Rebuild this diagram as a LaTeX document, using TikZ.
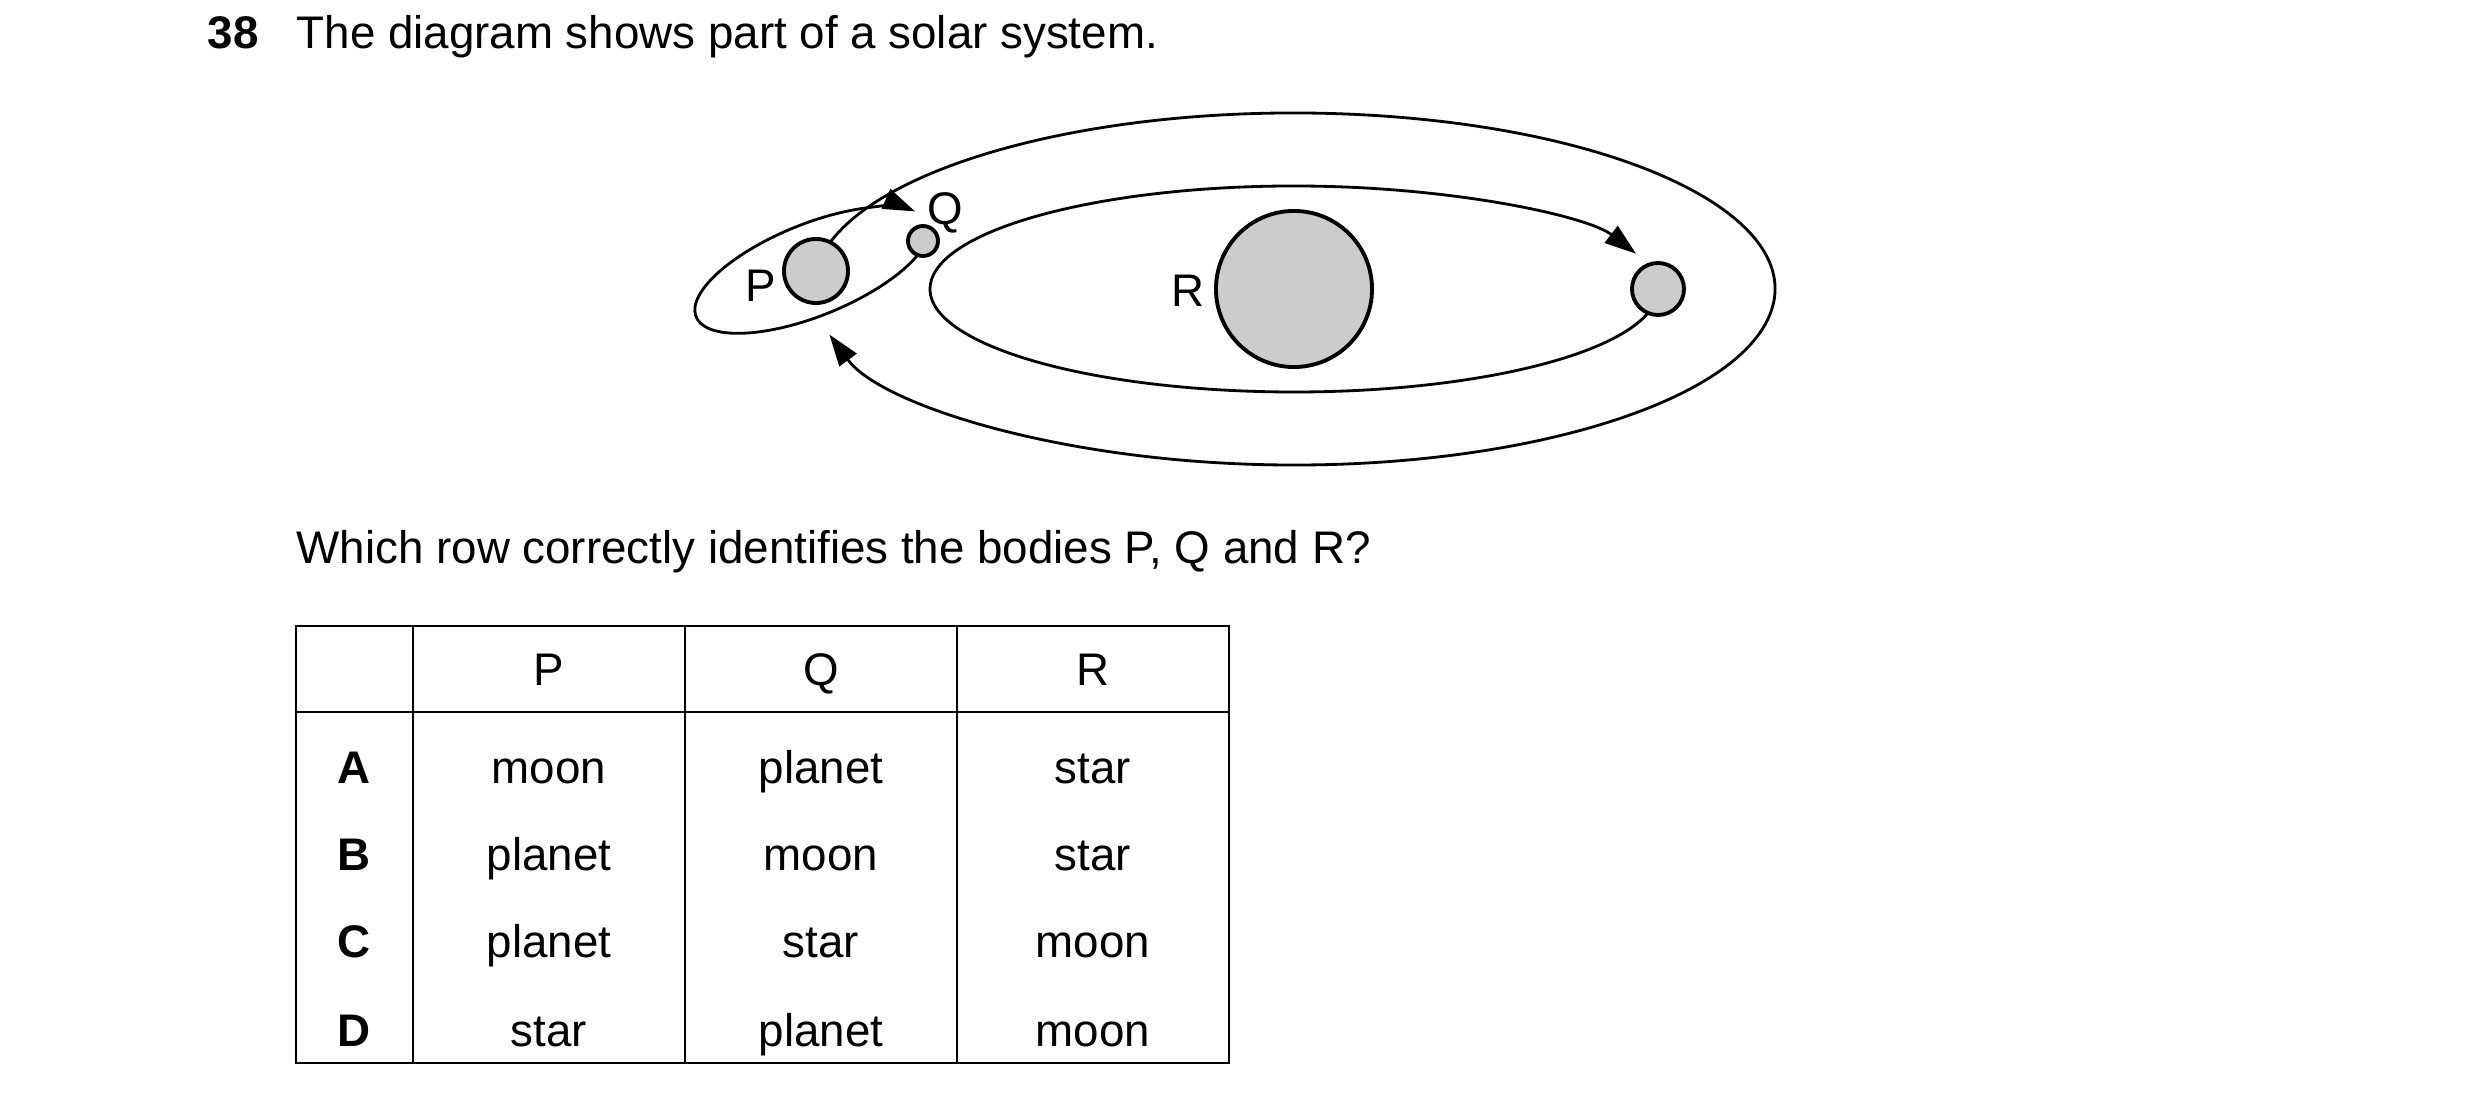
\documentclass[tikz,border=0pt]{standalone}
\usepackage{fontspec}
\setmainfont{Liberation Sans}
\usetikzlibrary{arrows.meta}

\begin{document}
\begin{tikzpicture}[x=0.01cm, y=0.01cm,
  body/.style={circle, draw, line width=1.1pt, fill=gray!40, inner sep=0pt},
  orbit/.style={line width=0.8pt},
  heading/.style={-{Triangle[length=9pt,width=6pt]}},
  txt/.style={font=\fontsize{13}{15}\selectfont, inner sep=0pt, text height=9.3pt, text depth=0pt}]
% Define common parameters
\def\cx{1294}
\def\cy{-289}
\useasboundingbox (0,0) rectangle (2480,-1104);

% Question line
\node[txt, font=\fontsize{13}{15}\selectfont\bfseries, anchor=west] (num) at (207,-32) {38};
\node[txt, anchor=west] (title) at (296,-32) {The diagram shows part of a solar system.};

% Orbits
\draw[orbit, heading] (\cx,\cy) ++(170:481 and 176)
  arc[start angle=170, end angle=-165, x radius=481, y radius=176];
\draw[orbit, heading] (\cx,\cy) ++(-8:364 and 103)
  arc[start angle=-8, end angle=-340, x radius=364, y radius=103];
\begin{scope}[shift={(812,-270)}, rotate=22]
  \draw[orbit, heading] (-30:125 and 46)
    arc[start angle=-30, end angle=-340, x radius=125, y radius=46];
\end{scope}

% Bodies
\node[body, minimum size=1.56cm] (R) at (\cx,\cy) {};
\node[body, minimum size=0.64cm] (P) at (816,-271) {};
\node[body, minimum size=0.30cm] (Q) at (923,-241) {};
\node[body, minimum size=0.52cm] (E) at (1658,-289) {};
\node[txt] (lblP) at (761,-285) {P};
\node[txt] (lblQ) at (945,-208) {Q};
\node[txt] (lblR) at (1188,-290) {R};

% Table
\node[txt, anchor=west] (ask) at (296,-547) {Which row correctly identifies the bodies P, Q and R?};
\draw[line width=0.7pt] (296,-626) rectangle (1229,-1063);
\draw[line width=0.7pt] (296,-712) -- (1229,-712);
\foreach \xx in {413,685,957}
  \draw[line width=0.7pt] (\xx,-626) -- (\xx,-1063);
\node[txt] (hP) at (549,-669) {P};
\node[txt] (hQ) at (821,-669) {Q};
\node[txt] (hR) at (1093,-669) {R};
\foreach \row/\yy/\a/\b/\c in {A/767/moon/planet/star, B/854/planet/moon/star,
    C/941/planet/star/moon, D/1030/star/planet/moon} {
  \node[txt, font=\fontsize{13}{15}\selectfont\bfseries] at (354,-\yy) {\row};
  \node[txt] at (549,-\yy) {\a};
  \node[txt] at (821,-\yy) {\b};
  \node[txt] at (1093,-\yy) {\c};
}
\end{tikzpicture}
\end{document}
